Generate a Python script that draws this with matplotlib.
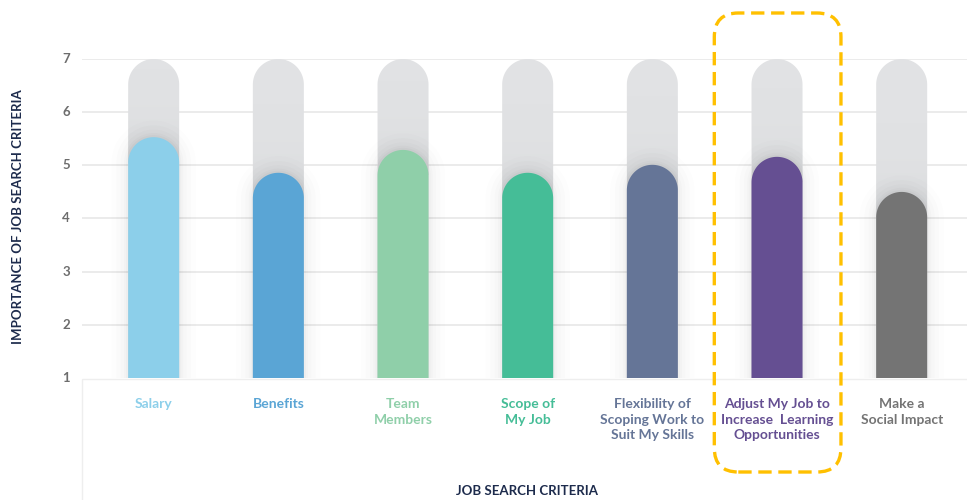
import numpy as np
import matplotlib
matplotlib.use("Agg")
import matplotlib.pyplot as plt
from matplotlib.patches import Polygon, FancyBboxPatch
from matplotlib.transforms import IdentityTransform

plt.rcParams['font.family'] = ['Lato', 'DejaVu Sans']

categories = ["Salary", "Benefits", "Team\nMembers", "Scope of\nMy Job",
              "Flexibility of\nScoping Work to\nSuit My Skills",
              "Adjust My Job to\nIncrease  Learning\nOpportunities",
              "Make a\nSocial Impact"]
values = [5.53, 4.86, 5.29, 4.86, 5.01, 5.16, 4.50]
colors = ["#8ccfea", "#5aa5d5", "#8fcfa9", "#45bd97", "#657597", "#654f92", "#747474"]
y_ticks = [1, 2, 3, 4, 5, 6, 7]
y_max = 7
highlight_index = 5

W, H = 967, 500
fig = plt.figure(figsize=(W / 100, H / 100), dpi=100)
ax_left, ax_right = 82, 967
ax_bottom, ax_top = H - 378, H - 59
ax = fig.add_axes([ax_left / W, ax_bottom / H, (ax_right - ax_left) / W, (ax_top - ax_bottom) / H])
xlim = (-0.575, 6.524)
ax.set_xlim(*xlim)
ax.set_ylim(1, y_max)

px_per_x = (ax_right - ax_left) / (xlim[1] - xlim[0])
px_per_y = (ax_top - ax_bottom) / (y_max - 1)
bar_w_px = 51
bw = bar_w_px / px_per_x
ry = (bar_w_px / 2) / px_per_y


def capsule(xc, top):
    t = np.linspace(0, np.pi, 60)
    cy = top - ry
    arc = np.column_stack([xc + bw / 2 * np.cos(t), cy + ry * np.sin(t)])
    pts = np.vstack([[xc - bw / 2, 1], [xc + bw / 2, 1], [xc + bw / 2, cy], arc[1:-1], [xc - bw / 2, cy]])
    return pts


# grid
for yt in y_ticks[1:]:
    ax.axhline(yt, color="#e9e9e9", lw=1.3, zorder=0)

cmap = matplotlib.colors.LinearSegmentedColormap.from_list(
    "g", [(0.80, 0.81, 0.82, 0.55), (0.86, 0.865, 0.87, 0.25), (0.88, 0.885, 0.89, 0.0)])
for i, (v, c) in enumerate(zip(values, colors)):
    # track
    track = Polygon(capsule(i, y_max), closed=True, facecolor="#e1e2e4", edgecolor="none", zorder=1, clip_on=False)
    ax.add_patch(track)
    # gradient shadow on track above the colored bar
    grad = np.linspace(0, 1, 100).reshape(-1, 1)
    im = ax.imshow(grad, extent=(i - bw / 2, i + bw / 2, v - ry, v + 1.3), origin="lower",
                   cmap=cmap, aspect="auto", zorder=2, interpolation="bilinear")
    im.set_clip_path(track)
    # soft glow
    for lw, a in [(24, 0.008), (17, 0.010), (11, 0.012), (6, 0.015), (3, 0.02)]:
        ax.add_patch(Polygon(capsule(i, v), closed=True, facecolor="none", edgecolor="#000000",
                             lw=lw, alpha=a, zorder=2.5, joinstyle="round", clip_on=True))
    ax.add_patch(Polygon(capsule(i, v), closed=True, facecolor=c, edgecolor="none", zorder=3, clip_on=False))

ax.set_xticks([])
ax.set_yticks([])
for s in ax.spines.values():
    s.set_visible(False)

fig.canvas.draw()
to_disp = ax.transData

# y tick labels
for yt in y_ticks:
    _, yd = to_disp.transform((0, yt))
    fig.text(66 / W, yd / H, str(yt), ha="center", va="center", fontsize=9.5,
             color="#6d6d6d", fontweight="bold")

# lower panel (white card with faint border)
panel = FancyBboxPatch((ax_left, -5), W - ax_left + 10, (H - 379) + 5, boxstyle="square,pad=0",
                       transform=IdentityTransform(), facecolor="white", edgecolor="#eeeeee", lw=1.0, zorder=0)
fig.patches.append(panel)

# category labels
for i, (cat, c) in enumerate(zip(categories, colors)):
    xd, _ = to_disp.transform((i, 1))
    fig.text(xd / W, (H - 398) / H, cat, ha="center", va="top", fontsize=10, color=c,
             fontweight="bold", linespacing=1.36)

# axis titles
fig.text(18 / W, (H - 217) / H, "IMPORTANCE OF JOB SEARCH CRITERIA", rotation=90, ha="center", va="center",
         fontsize=9.5, fontweight="bold", color="#1d2b4c")
fig.text(527 / W, (H - 491) / H, "JOB SEARCH CRITERIA", ha="center", va="center",
         fontsize=9.5, fontweight="bold", color="#1d2b4c")

# highlight box
xl, _ = to_disp.transform((highlight_index - 0.503, 1))
xr, _ = to_disp.transform((highlight_index + 0.513, 1))
box = FancyBboxPatch((xl, H - 472), xr - xl, 472 - 13, boxstyle="round,pad=0,rounding_size=24",
                     transform=IdentityTransform(), facecolor="none", edgecolor="#ffc000", lw=2.4,
                     linestyle=(0, (4, 2)), zorder=10)
fig.patches.append(box)

fig.savefig("out.png", dpi=100)
